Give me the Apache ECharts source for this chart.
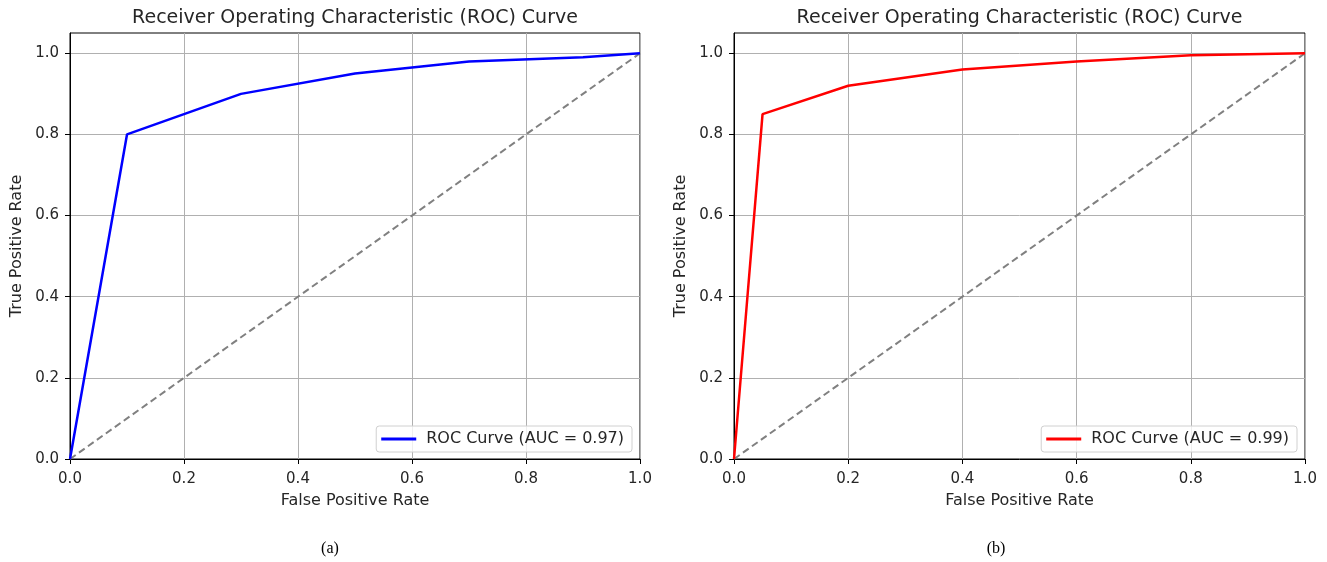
<!DOCTYPE html>
<html><head><meta charset="utf-8">
<script src="https://cdn.jsdelivr.net/npm/echarts@6/dist/echarts.min.js"></script>
<style>html,body{margin:0;padding:0;background:#fff}#c{width:1327px;height:562px}</style>
</head><body><div id="c"></div>
<script>
const fprA = [0, 0.1, 0.3, 0.5, 0.7, 0.9, 1.0];
const tprA = [0, 0.8, 0.9, 0.95, 0.98, 0.99, 1.0];
const fprB = [0, 0.05, 0.2, 0.4, 0.6, 0.8, 1.0];
const tprB = [0, 0.85, 0.92, 0.96, 0.98, 0.995, 1.0];
const diag = [0, 1];
const tickVals = [0, 0.2, 0.4, 0.6, 0.8, 1.0];
const labelA = 'ROC Curve (AUC = 0.97)';
const labelB = 'ROC Curve (AUC = 0.99)';
const titleText = 'Receiver Operating Characteristic (ROC) Curve';
const xName = 'False Positive Rate';
const yName = 'True Positive Rate';
const captions = ['(a)', '(b)'];

const font = 'DejaVu Sans';
const txt = '#262626';
const zip = (a, b) => a.map((v, i) => [v, b[i]]);

function xAxis(gi) {
  return {
    gridIndex: gi, type: 'value', min: 0, max: 1, interval: 0.2,
    name: xName, nameLocation: 'middle', nameGap: 34,
    nameTextStyle: {fontFamily: font, fontSize: 16, color: txt},
    axisLine: {show: true, onZero: false, lineStyle: {color: '#000', width: 1}},
    axisTick: {show: true, length: 5, lineStyle: {color: '#000'}},
    axisLabel: {fontFamily: font, fontSize: 15, color: txt, margin: 13, formatter: v => v.toFixed(1)},
    splitLine: {show: true, lineStyle: {color: '#b0b0b0', width: 1}}
  };
}
function yAxis(gi) {
  return {
    gridIndex: gi, type: 'value', min: 0, max: 1.05,
    name: yName, nameLocation: 'middle', nameGap: 45, nameRotate: 90,
    nameTextStyle: {fontFamily: font, fontSize: 16, color: txt},
    axisLine: {show: true, onZero: false, lineStyle: {color: '#000', width: 1}},
    axisTick: {show: true, length: 5, lineStyle: {color: '#000'}, customValues: tickVals},
    axisLabel: {fontFamily: font, fontSize: 15, color: txt, margin: 11, customValues: tickVals, formatter: v => v.toFixed(1)},
    splitLine: {show: true, lineStyle: {color: '#b0b0b0', width: 1}}
  };
}
function legend(name, right) {
  return {
    data: [name], right: right, bottom: 110, orient: 'horizontal',
    icon: 'rect', itemWidth: 35, itemHeight: 3, itemGap: 10,
    padding: [5, 8, 5, 5], backgroundColor: 'rgba(255,255,255,0.8)',
    borderColor: '#d0d0d0', borderWidth: 1, borderRadius: 3,
    textStyle: {fontFamily: font, fontSize: 16, color: txt, padding: [0, 0, 0, 5]},
    selectedMode: false
  };
}

const chart = echarts.init(document.getElementById('c'), null, {renderer: 'canvas'});
chart.setOption({
  animation: false,
  backgroundColor: '#fff',
  grid: [
    {left: 70, width: 570, top: 33, height: 426, show: true, borderColor: '#000', borderWidth: 1, containLabel: false},
    {left: 734, width: 571, top: 33, height: 426, show: true, borderColor: '#000', borderWidth: 1, containLabel: false}
  ],
  xAxis: [xAxis(0), xAxis(1)],
  yAxis: [yAxis(0), yAxis(1)],
  legend: [legend(labelA, 695), legend(labelB, 30)],
  series: [
    {name: labelA, type: 'line', xAxisIndex: 0, yAxisIndex: 0, data: zip(fprA, tprA), symbol: 'none', lineStyle: {color: '#0000ff', width: 2.5}, itemStyle: {color: '#0000ff'}, z: 3},
    {name: 'diagA', type: 'line', xAxisIndex: 0, yAxisIndex: 0, data: zip(diag, diag), symbol: 'none', lineStyle: {color: '#808080', width: 2, type: [7, 4]}, z: 2},
    {name: labelB, type: 'line', xAxisIndex: 1, yAxisIndex: 1, data: zip(fprB, tprB), symbol: 'none', lineStyle: {color: '#ff0000', width: 2.5}, itemStyle: {color: '#ff0000'}, z: 3},
    {name: 'diagB', type: 'line', xAxisIndex: 1, yAxisIndex: 1, data: zip(diag, diag), symbol: 'none', lineStyle: {color: '#808080', width: 2, type: [7, 4]}, z: 2}
  ],
  graphic: [
    {type: 'text', x: 355, y: 18, style: {text: titleText, font: '19px "DejaVu Sans"', fill: txt, textAlign: 'center', textVerticalAlign: 'middle'}},
    {type: 'text', x: 1019.5, y: 18, style: {text: titleText, font: '19px "DejaVu Sans"', fill: txt, textAlign: 'center', textVerticalAlign: 'middle'}},
    {type: 'text', x: 330, y: 549, style: {text: captions[0], font: '16px "Liberation Serif"', fill: '#000', textAlign: 'center', textVerticalAlign: 'middle'}},
    {type: 'text', x: 996, y: 549, style: {text: captions[1], font: '16px "Liberation Serif"', fill: '#000', textAlign: 'center', textVerticalAlign: 'middle'}}
  ]
});
</script></body></html>
